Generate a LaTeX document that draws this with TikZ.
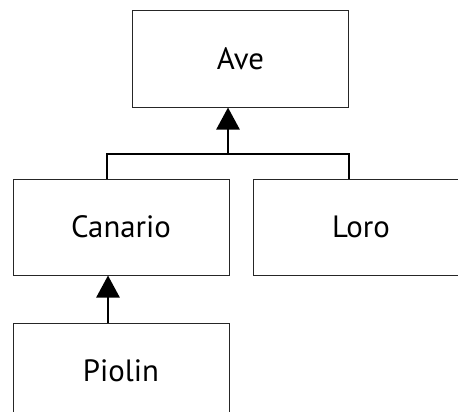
\documentclass[tikz,border=0pt]{standalone}
\usepackage{fontspec}
\setmainfont{PT Sans}
\usetikzlibrary{arrows.meta}

\tikzset{
  classbox/.style={draw=black!85, line width=1pt, fill=white,
    minimum width=216pt, minimum height=96pt, inner sep=0pt,
    font=\fontsize{30.8}{36}\selectfont},
  link/.style={line width=2.6pt, black},
  inherit/.style={link, -{Triangle[length=22pt,width=23pt]}}
}

\begin{document}
\begin{tikzpicture}[x=1pt, y=-1pt]
  \useasboundingbox (0,0) rectangle (458,412);
  \clip (0,0) rectangle (458,412);

  % class boxes
  \node[classbox] (ave)     at (240.5,59)  {Ave};
  \node[classbox] (canario) at (121,227)   {Canario};
  \node[classbox] (loro)    at (361,227)   {Loro};
  \node[classbox] (piolin)  at (121,371)   {Piolin};

  % shared generalisation: Canario and Loro under Ave
  \coordinate (join) at (228,154);
  \draw[link] ([xshift=-14pt]canario.north) |- (join)
              -| ([xshift=-12pt]loro.north);
  \draw[inherit] (join) -- ([xshift=-12.5pt]ave.south);

  % Piolin under Canario
  \draw[inherit] ([xshift=-13pt]piolin.north) -- ([xshift=-13pt]canario.south);
\end{tikzpicture}
\end{document}
